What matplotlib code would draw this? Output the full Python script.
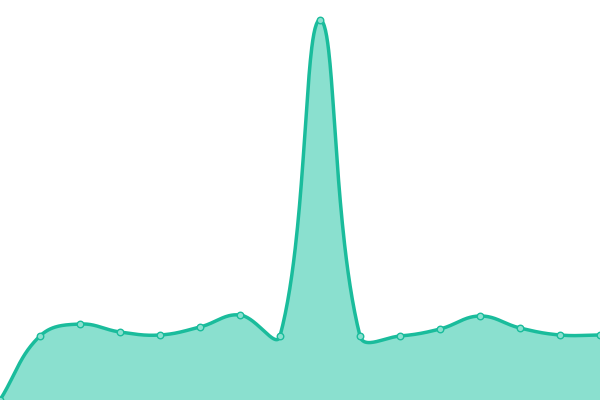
import numpy as np
import matplotlib
matplotlib.use("Agg")
import matplotlib.pyplot as plt

categories = list(range(16))
values = [0, 64, 76, 68, 65, 73, 85, 64, 380, 64, 64, 71, 84, 72, 65, 65]

LINE = "#1abc9c"
FILL = "#8ae0cf"

fig = plt.figure(figsize=(6, 4), dpi=100)
ax = fig.add_axes([0, 0, 1, 1])
ax.set_xlim(0, 15)
ax.set_ylim(0, 400)
ax.axis("off")

# Chart.js-style spline (tension 0.4) computed in pixel space
pts = ax.transData.transform(np.column_stack([categories, values]).astype(float))
n = len(pts)
t = 0.4
cps = []
for i in range(n):
    prev = pts[i - 1] if i > 0 else pts[i]
    cur = pts[i]
    nxt = pts[i + 1] if i < n - 1 else pts[i]
    d01 = np.hypot(*(cur - prev))
    d12 = np.hypot(*(nxt - cur))
    tot = d01 + d12
    s01 = d01 / tot if tot else 0
    s12 = d12 / tot if tot else 0
    fa, fb = t * s01, t * s12
    cps.append((cur - fa * (nxt - prev), cur + fb * (nxt - prev)))

curve = []
u = np.linspace(0, 1, 60)[:, None]
for i in range(n - 1):
    p0 = pts[i]
    p1 = cps[i][1]
    p2 = cps[i + 1][0]
    p3 = pts[i + 1]
    seg = ((1 - u) ** 3) * p0 + 3 * ((1 - u) ** 2) * u * p1 + 3 * (1 - u) * u ** 2 * p2 + u ** 3 * p3
    curve.append(seg if i == 0 else seg[1:])
curve = np.vstack(curve)
cd = ax.transData.inverted().transform(curve)

ax.fill_between(cd[:, 0], cd[:, 1], 0, color=FILL, lw=0, zorder=1)
ax.plot(cd[:, 0], cd[:, 1], color=LINE, lw=2.5, zorder=2, solid_capstyle="round")
ax.scatter(categories, values, s=22, facecolor=FILL, edgecolor=LINE, linewidth=1.0, zorder=3, clip_on=True)

fig.savefig("out.png", dpi=100)
